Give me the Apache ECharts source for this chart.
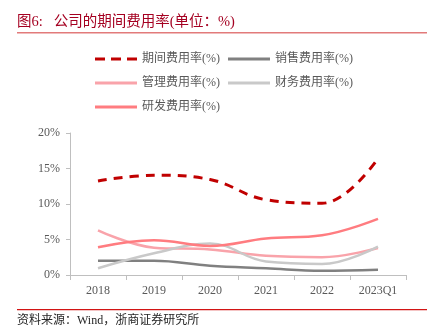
<!DOCTYPE html>
<html>
<head>
<meta charset="utf-8">
<script src="https://cdn.jsdelivr.net/npm/echarts@6/dist/echarts.min.js"></script>
<style>
  html, body { margin: 0; padding: 0; background: #fff; }
  #chart { width: 439px; height: 334px; }
</style>
</head>
<body>
<div id="chart"></div>
<script>
// Expense ratios by year (%)
const categories = ['2018', '2019', '2020', '2021', '2022', '2023Q1'];
const periodExpense = [13.25, 14.05, 13.45, 10.6, 10.1, 16.4];
const sellingExpense = [2.0, 2.0, 1.3, 0.95, 0.6, 0.75];
const adminExpense = [6.3, 3.85, 3.6, 2.7, 2.5, 3.8];
const financeExpense = [0.95, 3.05, 4.45, 1.9, 1.55, 4.0];
const rdExpense = [3.9, 4.9, 4.1, 5.15, 5.6, 7.9];
const yTicks = [0, 5, 10, 15, 20];

const seriesNames = ['期间费用率(%)', '销售费用率(%)', '管理费用率(%)', '财务费用率(%)', '研发费用率(%)'];
const seriesData = [periodExpense, sellingExpense, adminExpense, financeExpense, rdExpense];
const colors = ['#c00000', '#808080', '#f9a3aa', '#c9c9c9', '#ff7c80'];

const FONT = '"Liberation Serif", "Noto Sans CJK SC", serif';

// legend keys: a dashed stroke for the total, solid strokes for the rest
const DASH_ICON = 'path://M0,0h10v3h-10z M16,0h10v3h-10z M32,0h10v3h-10z';
const SOLID_ICON = 'path://M0,0h42v3h-42z';

const chart = echarts.init(document.getElementById('chart'), null, { renderer: 'canvas' });

chart.setOption({
  animation: false,
  backgroundColor: '#fff',
  color: colors,
  legend: {
    data: seriesNames.map((name, i) => ({ name, icon: i === 0 ? DASH_ICON : SOLID_ICON })),
    orient: 'horizontal',
    left: 95,
    top: 51,
    width: 270,
    itemWidth: 42,
    itemHeight: 3,
    itemGap: 8,
    padding: 0,
    textStyle: { fontFamily: FONT, fontSize: 12, color: '#595959', lineHeight: 16 }
  },
  grid: { left: 70, right: 33, top: 133, bottom: 59, containLabel: false },
  xAxis: {
    type: 'category',
    data: categories,
    boundaryGap: true,
    axisLine: { show: true, lineStyle: { color: '#bfbfbf', width: 1 } },
    axisTick: { show: true, alignWithLabel: false, length: 5, lineStyle: { color: '#bfbfbf' } },
    axisLabel: { fontFamily: FONT, fontSize: 12, color: '#595959', margin: 10 }
  },
  yAxis: {
    type: 'value',
    min: yTicks[0],
    max: yTicks[yTicks.length - 1],
    interval: 5,
    axisLine: { show: true, lineStyle: { color: '#bfbfbf', width: 1 } },
    axisTick: { show: true, length: 4, lineStyle: { color: '#bfbfbf' } },
    splitLine: { show: false },
    axisLabel: { fontFamily: FONT, fontSize: 12, color: '#595959', margin: 10, formatter: v => v + '%' }
  },
  series: seriesNames.map((name, i) => ({
    name,
    type: 'line',
    data: seriesData[i],
    smooth: 0.4,
    symbol: 'none',
    z: i === 0 ? 5 : 2,
    lineStyle: {
      color: colors[i],
      width: i === 0 ? 3 : 2.5,
      type: i === 0 ? [9, 7] : 'solid'
    },
    itemStyle: { color: colors[i] }
  })),
  graphic: [
    {
      type: 'text', left: 17, top: 15,
      style: { text: '图6:   公司的期间费用率(单位：%)', font: '14.5px ' + FONT, fill: '#a50021' }
    },
    {
      type: 'rect', shape: { x: 17, y: 32, width: 410, height: 1.5 },
      style: { fill: '#e27a7a' }
    },
    {
      type: 'rect', shape: { x: 17, y: 309, width: 410, height: 1.2 },
      style: { fill: '#d21414' }
    },
    {
      type: 'text', left: 17, top: 315,
      style: { text: '资料来源：Wind，浙商证券研究所', font: '12px ' + FONT, fill: '#262626' }
    }
  ]
});
</script>
</body>
</html>
